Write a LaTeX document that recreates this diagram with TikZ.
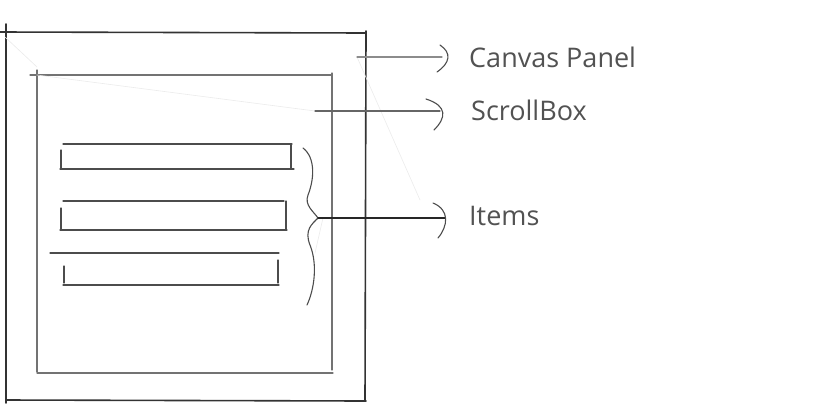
\documentclass[tikz,border=0pt]{standalone}
\usepackage{fontspec}
\setmainfont{Open Sans}
\begin{document}
\begin{tikzpicture}[x=1pt,y=-1pt,line cap=round,
  outerln/.style={draw=black!80,line width=1.6pt},
  innerln/.style={draw=black!55,line width=1.3pt},
  itemln/.style={draw=black!70,line width=1.2pt},
  leader/.style={draw=black!60,line width=1.1pt},
  faint/.style={draw=black!8,line width=0.6pt},
  lbl/.style={anchor=base west,inner sep=0pt,text=black!68,font=\fontsize{27}{30}\selectfont}]
\useasboundingbox (0,0) rectangle (832,408);
% outer box (Canvas Panel)
\draw[outerln] (6,24) -- (6,403);
\draw[outerln] (0,32) -- (366,33);
\draw[outerln] (366,31) -- (365,401);
\draw[outerln] (6,400) -- (366,401);
% inner box (ScrollBox)
\draw[innerln] (30,75) -- (332,75);
\draw[innerln] (37,70) -- (37,372);
\draw[innerln] (332,73) -- (332,370);
\draw[innerln] (37,373) -- (333,373);
% items
\draw[itemln] (63,144) -- (292,144);
\draw[itemln] (60,169) -- (294,169);
\draw[itemln] (61,150) -- (61,169);
\draw[itemln] (291,144) -- (291,168);
\draw[itemln] (63,201) -- (284,201);
\draw[itemln] (60,230) -- (287,230);
\draw[itemln] (61,208) -- (61,230);
\draw[itemln] (286,201) -- (286,230);
\draw[itemln] (50,253) -- (279,253);
\draw[itemln] (63,285) -- (279,285);
\draw[itemln] (64,266) -- (64,283);
\draw[itemln] (278,260) -- (278,283);
% brace
\coordinate (bt) at (303,148);
\coordinate (bp) at (318,218);
\coordinate (bb) at (307,305);
\draw[draw=black!70,line width=1.1pt] (bt) .. controls (316,158) and (314,180) .. (308,195)
  .. controls (304,205) and (314,212) .. (bp)
  .. controls (312,224) and (304,230) .. (310,245)
  .. controls (318,265) and (314,290) .. (bb);
% faint sketch lines
\draw[faint] (5,37) -- (37,67);
\draw[faint] (37,75) -- (315,111);
\draw[faint] (357,57) -- (420,200);
\draw[faint] (323,218) -- (315,253);
% labels
\node[lbl] (cp) at (469,67) {Canvas Panel};
\node[lbl] (sb) at (471,120) {ScrollBox};
\node[lbl] (it) at (469,225) {Items};
% leaders
\coordinate (cps) at (357,57);
\coordinate (sbs) at (315,111);
\coordinate (its) at (bp);
\draw[leader,draw=black!45] (cps) -- (442,57);
\draw[leader,draw=black!70] (440,45) .. controls (452,53) and (450,63) .. (437,72);
\draw[leader] (sbs) -- (440,111);
\draw[leader,draw=black!70] (426,99) .. controls (448,106) and (446,118) .. (434,130);
\draw[leader,draw=black!85] (its) -- (445,218);
\draw[leader,draw=black!70] (433,203) .. controls (450,210) and (448,226) .. (438,238);
\path (cps) -- (cp.west);
\end{tikzpicture}
\end{document}
